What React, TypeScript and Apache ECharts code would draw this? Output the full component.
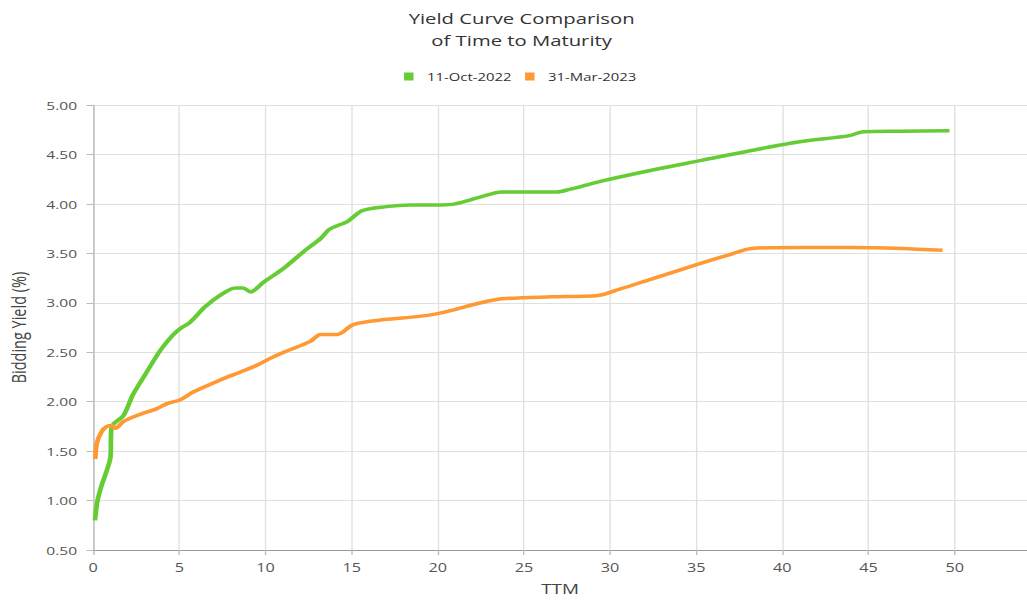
import React, { useEffect, useRef } from "react";
import * as echarts from "echarts";

const seriesNames = ["11-Oct-2022", "31-Mar-2023"];

const oct2022: [number, number][] = [
  [0.1, 0.8], [0.25, 1.0], [0.5, 1.16], [0.8, 1.31], [1.0, 1.44], [1.05, 1.72],
  [1.2, 1.78], [1.76, 1.86], [2.3, 2.07], [3.0, 2.27], [3.9, 2.52], [4.6, 2.67],
  [5.06, 2.74], [5.6, 2.8], [6.5, 2.96], [7.4, 3.08], [8.25, 3.15], [8.7, 3.15],
  [9.13, 3.11], [9.9, 3.21], [11.06, 3.35], [12.23, 3.52], [13.2, 3.65], [13.68, 3.74],
  [14.17, 3.78], [14.75, 3.82], [15.6, 3.93], [16.9, 3.97], [18.4, 3.99], [20.2, 3.99],
  [21.0, 4.0], [22.5, 4.07], [23.7, 4.12], [26.9, 4.12], [27.7, 4.15], [29.5, 4.23],
  [32.4, 4.34], [35.3, 4.44], [38.2, 4.54], [41.1, 4.63], [43.9, 4.69], [44.7, 4.73],
  [46.9, 4.735], [49.7, 4.74],
];

const mar2023: [number, number][] = [
  [0.12, 1.42], [0.21, 1.58], [0.5, 1.7], [0.8, 1.75], [1.09, 1.76], [1.28, 1.73],
  [1.76, 1.8], [2.54, 1.86], [3.7, 1.93], [4.28, 1.98], [5.06, 2.02], [5.83, 2.1],
  [7.38, 2.22], [8.55, 2.3], [9.4, 2.36], [10.3, 2.44], [11.06, 2.5], [12.6, 2.61],
  [13.2, 2.68], [14.17, 2.68], [15.1, 2.78], [16.9, 2.83], [18.8, 2.86], [20.0, 2.89],
  [20.75, 2.92], [22.5, 3.0], [23.7, 3.04], [26.6, 3.06], [29.2, 3.07], [30.6, 3.14],
  [32.4, 3.24], [35.3, 3.4], [37.0, 3.49], [38.2, 3.55], [41.1, 3.56], [44.0, 3.56],
  [46.9, 3.55], [49.3, 3.53],
];

const colors = ["#66cc33", "#ff9933"];
const FONT = "Open Sans";

// The reference is a horizontally stretched rendering; reproduce it by
// rendering narrower and scaling the chart container along x.
const PAGE_W = 1027;
const PAGE_H = 601;
const INNER_W = 760;
const STRETCH = PAGE_W / INNER_W;

export default function App() {
  const ref = useRef<HTMLDivElement>(null);
  useEffect(() => {
    const chart = echarts.init(ref.current!, undefined, { renderer: "svg" });
    chart.setOption({
      animation: false,
      textStyle: { fontFamily: FONT },
      title: {
        text: "Yield Curve Comparison\nof Time to Maturity",
        left: 381,
        textAlign: "center",
        top: 2,
        textStyle: { fontSize: 15, fontWeight: "normal", color: "#333", lineHeight: 22, fontFamily: FONT },
      },
      legend: {
        top: 66,
        left: 294,
        icon: "rect",
        itemWidth: 7,
        itemHeight: 8,
        itemGap: 10,
        textStyle: { fontSize: 11, color: "#333", fontFamily: FONT, padding: [0, 0, 0, 5] },
        data: seriesNames,
      },
      grid: { left: 69, right: 0, top: 105, bottom: 51, outerBoundsMode: "none", containLabel: false },
      xAxis: {
        type: "value",
        min: 0,
        max: 54.2,
        interval: 5,
        name: "TTM",
        nameLocation: "middle",
        nameGap: 32,
        nameTextStyle: { fontSize: 14, color: "#444", fontFamily: FONT },
        axisLine: { show: true, lineStyle: { color: "#999" } },
        axisTick: { show: true, length: 5, lineStyle: { color: "#bbb" } },
        axisLabel: { color: "#555", fontSize: 12, showMaxLabel: false, margin: 11, fontFamily: FONT },
        splitLine: { show: true, showMaxLine: false, lineStyle: { color: "#e0e0e0", width: 1 } },
      },
      yAxis: {
        type: "value",
        min: 0.5,
        max: 5,
        interval: 0.5,
        name: "Bidding Yield (%)",
        nameLocation: "middle",
        nameGap: 48,
        nameTextStyle: { fontSize: 14.5, color: "#444", fontFamily: FONT },
        axisLine: { show: true, lineStyle: { color: "#bbb" } },
        axisTick: { show: true, length: 5, lineStyle: { color: "#bbb" } },
        axisLabel: { color: "#555", fontSize: 11.5, margin: 12, formatter: (v: number) => v.toFixed(2), fontFamily: FONT },
        splitLine: { show: true, lineStyle: { color: "#e0e0e0", width: 1 } },
      },
      series: [
        {
          name: seriesNames[0],
          type: "line",
          data: oct2022,
          smooth: 0.3,
          showSymbol: false,
          lineStyle: { width: 3.5, color: colors[0] },
          itemStyle: { color: colors[0] },
        },
        {
          name: seriesNames[1],
          type: "line",
          data: mar2023,
          smooth: 0.3,
          showSymbol: false,
          lineStyle: { width: 3.5, color: colors[1] },
          itemStyle: { color: colors[1] },
        },
      ],
    });
    return () => chart.dispose();
  }, []);
  return (
    <div
      style={{
        position: "absolute",
        left: 0,
        top: 0,
        width: PAGE_W,
        height: PAGE_H,
        overflow: "hidden",
        background: "#fff",
      }}
    >
      <div
        ref={ref}
        style={{
          width: INNER_W,
          height: PAGE_H,
          transform: `scaleX(${STRETCH})`,
          transformOrigin: "0 0",
        }}
      />
    </div>
  );
}
